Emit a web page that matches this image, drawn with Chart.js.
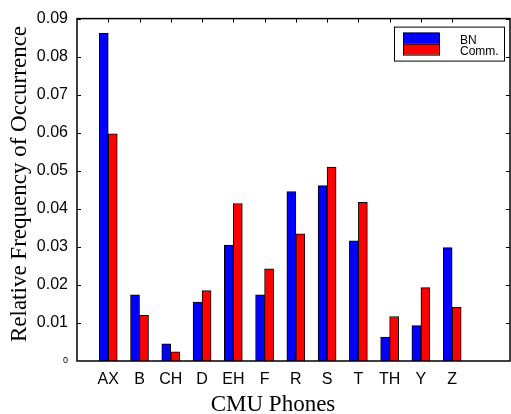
<!DOCTYPE html>
<html>
<head>
<meta charset="utf-8">
<script src="https://cdn.jsdelivr.net/npm/chart.js@4/dist/chart.umd.min.js"></script>
<style>
  html, body { margin: 0; padding: 0; background: #fff; }
  #wrap { width: 511px; height: 414px; }
</style>
</head>
<body>
<div id="wrap"><canvas id="chart" width="511" height="414"></canvas></div>
<script>
const categories = ['AX', 'B', 'CH', 'D', 'EH', 'F', 'R', 'S', 'T', 'TH', 'Y', 'Z'];
const bnValues = [0.0861, 0.0174, 0.0045, 0.0155, 0.0305, 0.0174, 0.0445, 0.0461, 0.0316, 0.0063, 0.0093, 0.0298];
const commValues = [0.0597, 0.0120, 0.0024, 0.0185, 0.0414, 0.0242, 0.0334, 0.0510, 0.0417, 0.0117, 0.0193, 0.0142];
const yTickValues = [0, 0.01, 0.02, 0.03, 0.04, 0.05, 0.06, 0.07, 0.08, 0.09];
const seriesNames = ['BN', 'Comm.'];
const seriesColors = ['#0000ff', '#ff0000'];
const xTitle = 'CMU Phones';
const yTitle = 'Relative Frequency of Occurrence';

const toPoints = (values) => values.map((v, i) => ({ x: i + 1, y: v }));

// frame with inward tick marks, drawn over the bars
const framePlugin = {
  id: 'frame',
  afterDatasetsDraw(chart) {
    const { ctx, chartArea: a, scales: { x, y } } = chart;
    ctx.save();
    ctx.strokeStyle = '#000';
    ctx.lineWidth = 1;
    yTickValues.forEach((v) => {
      if (v === 0) return;
      const py = Math.round(y.getPixelForValue(v)) + 0.5;
      ctx.beginPath();
      ctx.moveTo(a.left, py); ctx.lineTo(a.left + 4, py);
      ctx.moveTo(a.right, py); ctx.lineTo(a.right - 4, py);
      ctx.stroke();
    });
    categories.forEach((c, i) => {
      const px = Math.round(x.getPixelForValue(i + 1)) + 0.5;
      ctx.beginPath();
      ctx.moveTo(px, a.top); ctx.lineTo(px, a.top + 4);
      ctx.stroke();
    });
    ctx.lineWidth = 1.5;
    ctx.strokeRect(a.left, a.top, a.right - a.left, a.bottom - a.top);
    ctx.restore();
  },
  afterDraw(chart) {
    const { ctx, chartArea: a } = chart;
    ctx.save();
    // legend
    const lx = a.right - 116;
    const ly = a.top + 8;
    ctx.fillStyle = '#fff';
    ctx.fillRect(lx, ly, 110, 34);
    ctx.strokeStyle = '#000';
    ctx.lineWidth = 1;
    ctx.strokeRect(lx + 0.5, ly + 0.5, 110, 34);
    ctx.fillStyle = seriesColors[0];
    ctx.fillRect(lx + 9, ly + 6, 36, 11);
    ctx.fillStyle = seriesColors[1];
    ctx.fillRect(lx + 9, ly + 17, 36, 11);
    ctx.strokeRect(lx + 9.5, ly + 6.5, 36, 22);
    ctx.beginPath();
    ctx.moveTo(lx + 9, ly + 17.5); ctx.lineTo(lx + 45, ly + 17.5);
    ctx.stroke();
    ctx.fillStyle = '#000';
    ctx.font = '12px "Liberation Sans", Arial, sans-serif';
    ctx.textBaseline = 'alphabetic';
    ctx.fillText(seriesNames[0], lx + 66, ly + 17);
    ctx.fillText(seriesNames[1], lx + 66, ly + 28);
    // axis titles
    ctx.font = '23px "Liberation Serif", "Times New Roman", serif';
    ctx.textAlign = 'center';
    ctx.textBaseline = 'alphabetic';
    ctx.fillText(xTitle, 273, 411);
    ctx.translate(26, 184);
    ctx.rotate(-Math.PI / 2);
    ctx.fillText(yTitle, 0, 0);
    ctx.restore();
  },
};

new Chart(document.getElementById('chart'), {
  type: 'bar',
  data: {
    datasets: [
      {
        label: seriesNames[0],
        data: toPoints(bnValues),
        backgroundColor: seriesColors[0],
        borderColor: '#000',
        borderWidth: 1,
        barThickness: 9,
      },
      {
        label: seriesNames[1],
        data: toPoints(commValues),
        backgroundColor: seriesColors[1],
        borderColor: '#000',
        borderWidth: 1,
        barThickness: 9,
      },
    ],
  },
  options: {
    responsive: false,
    animation: false,
    devicePixelRatio: 1,
    layout: { padding: { top: 16, right: 1, left: 0, bottom: 0 } },
    plugins: {
      legend: { display: false },
      tooltip: { enabled: false },
    },
    scales: {
      x: {
        type: 'linear',
        offset: false,
        min: 0,
        max: 13.85,
        grid: { display: false, drawTicks: false },
        border: { display: false },
        afterBuildTicks(scale) {
          scale.ticks = categories.map((c, i) => ({ value: i + 1 }));
        },
        afterFit(scale) { scale.height = 53; },
        ticks: {
          autoSkip: false,
          maxRotation: 0,
          padding: 9,
          color: '#000',
          font: { family: '"Liberation Sans", Arial, sans-serif', size: 16 },
          callback: (v) => categories[v - 1],
        },
      },
      y: {
        min: 0,
        max: 0.09,
        grid: { display: false, drawTicks: false },
        border: { display: false },
        afterBuildTicks(scale) {
          scale.ticks = yTickValues.map((v) => ({ value: v }));
        },
        afterFit(scale) { scale.width = 77; },
        ticks: {
          padding: 9,
          color: '#000',
          font: (ctx) => ({
            family: '"Liberation Sans", Arial, sans-serif',
            size: ctx.tick && ctx.tick.value === 0 ? 9 : 16,
          }),
          callback: (v) => (v === 0 ? '0' : v.toFixed(2)),
        },
      },
    },
  },
  plugins: [framePlugin],
});
</script>
</body>
</html>
